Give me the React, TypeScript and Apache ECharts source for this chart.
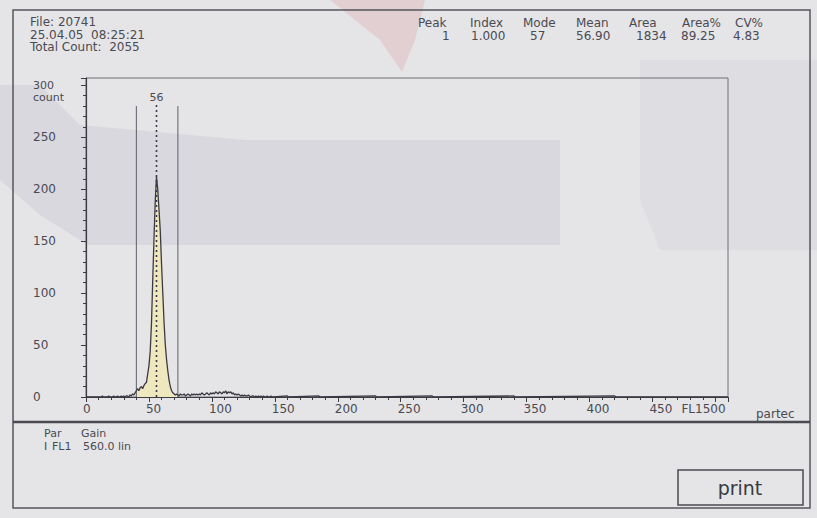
import React, { useEffect, useRef } from "react";
import * as echarts from "echarts";

// Histogram counts per channel (index = channel 0..149)
const counts = [
  0, 0, 0, 0, 0, 0, 0, 0, 0, 0,
  0, 0, 0, 1, 0, 0, 0, 0, 1, 0,
  0, 0, 1, 0, 0, 1, 0, 0, 1, 0,
  1, 0, 1, 1, 0, 2, 1, 3, 2, 4,
  6, 8, 6, 9, 10, 8, 11, 13, 14, 22,
  30, 44, 70, 112, 152, 188, 212, 200, 180, 160,
  128, 100, 72, 50, 36, 25, 16, 10, 6, 4,
  3, 2, 3, 2, 1, 3, 2, 2, 3, 1,
  2, 3, 2, 1, 3, 2, 3, 2, 3, 2,
  3, 2, 4, 3, 2, 3, 4, 3, 2, 4,
  3, 4, 3, 5, 4, 3, 5, 4, 3, 5,
  4, 6, 3, 5, 4, 5, 3, 4, 2, 3,
  2, 3, 2, 1, 2, 1, 2, 1, 1, 2,
  1, 0, 1, 1, 0, 1, 0, 1, 0, 1,
  0, 1, 0, 0, 1, 0, 0, 1, 0, 0,
];
// Sparse tail beyond channel 149
const tailChannels = [160, 161, 185, 186, 230, 231, 275, 276, 340, 341, 420, 421, 510];
const tailCounts = [1, 0, 1, 0, 1, 0, 1, 0, 1, 0, 1, 0, 0];

const xMax = 510;
const yMax = 307;
const peakChannel = 56;
const gateLeft = 40;
const gateRight = 73;
const gateTop = 280;
const peakTop = 281;

const headerLeft = ["File: 20741", "25.04.05  08:25:21", "Total Count:  2055"];
const statNames = ["Peak", "Index", "Mode", "Mean", "Area", "Area%", "CV%"];
const statValues = ["1", "1.000", "57", "56.90", "1834", "89.25", "4.83"];
const paramHead = ["Par", "Gain"];
const paramRow = ["I", "FL1", "560.0 lin"];

const FONT = "DejaVu Sans";
const TXT = "#4a4a52";

export default function App() {
  const ref = useRef<HTMLDivElement>(null);
  useEffect(() => {
    if (!ref.current) return;
    const chart = echarts.init(ref.current, undefined, { renderer: "svg" });

    const histData: any[] = counts.map((c, i) => [i, c]);
    tailChannels.forEach((ch, k) => histData.push([ch, tailCounts[k]]));
    const gateData = counts.slice(gateLeft, gateRight + 1).map((c, k) => [gateLeft + k, c]);

    const statNameX = [418, 470, 523, 576, 629, 682, 735];
    const statValX = [442, 471, 530, 576, 636, 681, 733];

    const texts: any[] = [];
    headerLeft.forEach((t, i) =>
      texts.push({ type: "text", left: 30, top: 16 + i * 12.5, style: { text: t, font: `12px "${FONT}"`, fill: TXT } })
    );
    statNames.forEach((t, i) =>
      texts.push({ type: "text", x: statNameX[i], y: 17, style: { text: t, font: `12px "${FONT}"`, fill: TXT } })
    );
    statValues.forEach((t, i) =>
      texts.push({ type: "text", x: statValX[i], y: 30, style: { text: t, font: `12px "${FONT}"`, fill: TXT } })
    );
    const paramHeadX = [44, 81];
    const paramRowX = [44, 52, 83];
    paramHead.forEach((t, i) =>
      texts.push({ type: "text", x: paramHeadX[i], y: 428, style: { text: t, font: `11px "${FONT}"`, fill: TXT } })
    );
    paramRow.forEach((t, i) =>
      texts.push({ type: "text", x: paramRowX[i], y: 441, style: { text: t, font: `11px "${FONT}"`, fill: TXT } })
    );

    const option: any = {
      animation: false,
      backgroundColor: "#e5e5e7",
      textStyle: { fontFamily: FONT },
      grid: {
        left: 86,
        top: 78,
        width: 642,
        height: 319,
        show: true,
        borderColor: "#6e6e76",
        borderWidth: 1,
        backgroundColor: "transparent",
      },
      xAxis: [
        {
          type: "value",
          min: 0,
          max: xMax,
          interval: 50,
          position: "bottom",
          axisLine: { show: true, lineStyle: { color: "#3c3c44", width: 1.2 } },
          axisTick: { show: true, length: 5, lineStyle: { color: "#3c3c44" } },
          splitLine: { show: false },
          axisLabel: {
            show: true,
            align: "left",
            margin: 6,
            color: TXT,
            fontSize: 12,
            fontFamily: FONT,
            padding: [0, 0, 0, -3],
            formatter: (v: number) => {
              if (v % 50 !== 0) return "";
              if (v === 500) return "{f|FL1500}";
              return String(v);
            },
            rich: {
              f: { fontSize: 12, fontFamily: FONT, color: TXT, padding: [0, 0, 0, -31] },
            },
          },
        },
        {
          type: "value",
          min: 0,
          max: xMax,
          interval: 10,
          position: "bottom",
          axisLine: { show: false },
          axisTick: { show: true, length: 3, lineStyle: { color: "#3c3c44" } },
          axisLabel: { show: false },
          splitLine: { show: false },
        },
      ],
      yAxis: [
        {
          type: "value",
          min: 0,
          max: yMax,
          interval: 50,
          position: "left",
          axisLine: { show: true, lineStyle: { color: "#3c3c44", width: 1.2 } },
          axisTick: { show: true, length: 5, lineStyle: { color: "#3c3c44" } },
          splitLine: { show: false },
          axisLabel: {
            show: true,
            align: "left",
            margin: 53,
            color: TXT,
            fontSize: 12,
            fontFamily: FONT,
            formatter: (v: number) => {
              if (v % 50 !== 0) return "";
              if (v === 300) return "{e| }\n{n|300}\n{n|count}";
              return String(v);
            },
            rich: {
              e: { fontSize: 10, lineHeight: 12 },
              n: { fontSize: 11, lineHeight: 12, color: TXT, fontFamily: FONT },
            },
          },
        },
        {
          type: "value",
          min: 0,
          max: yMax,
          interval: 10,
          position: "left",
          axisLine: { show: false },
          axisTick: { show: true, length: 3, lineStyle: { color: "#3c3c44" } },
          axisLabel: { show: false },
          splitLine: { show: false },
        },
      ],
      series: [
        {
          type: "line",
          data: gateData,
          showSymbol: false,
          lineStyle: { width: 0 },
          areaStyle: { color: "#efe7bd", opacity: 1 },
          z: 1,
          silent: true,
        },
        {
          type: "line",
          data: histData,
          showSymbol: false,
          lineStyle: { color: "#3a3a44", width: 1.3 },
          z: 3,
          silent: true,
        },
        {
          type: "line",
          data: [[gateLeft, 0], [gateLeft, gateTop]],
          showSymbol: false,
          lineStyle: { color: "#5e5e68", width: 1 },
          z: 2,
          silent: true,
        },
        {
          type: "line",
          data: [[gateRight, 0], [gateRight, gateTop]],
          showSymbol: false,
          lineStyle: { color: "#5e5e68", width: 1 },
          z: 2,
          silent: true,
        },
        {
          type: "line",
          data: [
            [peakChannel, 0],
            {
              value: [peakChannel, peakTop],
              label: {
                show: true,
                position: "top",
                distance: 2,
                formatter: String(peakChannel),
                color: TXT,
                fontSize: 11,
                fontFamily: FONT,
              },
            },
          ],
          symbol: "circle",
          symbolSize: 0,
          showSymbol: true,
          lineStyle: { color: "#3a3a48", width: 1.6, type: [2, 3] },
          z: 4,
          silent: true,
        },
      ],
      graphic: [
        // faint watermark shapes
        {
          type: "polygon",
          z: -10,
          shape: { points: [[330, 0], [425, 0], [415, 40], [402, 72], [380, 40]] },
          style: { fill: "rgba(215,150,155,0.28)" },
          silent: true,
        },
        {
          type: "polygon",
          z: -10,
          shape: { points: [[0, 85], [40, 85], [80, 125], [245, 140], [560, 140], [560, 245], [88, 245], [40, 215], [0, 180]] },
          style: { fill: "rgba(150,150,175,0.16)" },
          silent: true,
        },
        {
          type: "polygon",
          z: -10,
          shape: { points: [[640, 60], [817, 60], [817, 250], [660, 250], [640, 200]] },
          style: { fill: "rgba(170,170,185,0.10)" },
          silent: true,
        },
        // outer frame
        {
          type: "rect",
          shape: { x: 13, y: 10, width: 797, height: 498 },
          style: { fill: "none", stroke: "#55555e", lineWidth: 1.5 },
          silent: true,
        },
        {
          type: "line",
          shape: { x1: 13, y1: 422, x2: 810, y2: 422 },
          style: { stroke: "#4a4a52", lineWidth: 2.5 },
          silent: true,
        },
        {
          type: "text",
          x: 756,
          y: 408,
          style: { text: "partec", font: `12px "${FONT}"`, fill: TXT },
          silent: true,
        },
        {
          type: "rect",
          shape: { x: 678, y: 470, width: 125, height: 35 },
          style: { fill: "none", stroke: "#4a4a52", lineWidth: 1.5 },
          silent: true,
        },
        {
          type: "text",
          x: 740,
          y: 488,
          style: { text: "print", font: `19px "${FONT}"`, fill: "#3a3a42", align: "center", verticalAlign: "middle" },
          silent: true,
        },
        ...texts,
      ],
    };
    chart.setOption(option);
    return () => chart.dispose();
  }, []);
  return <div ref={ref} style={{ position: "fixed", left: 0, top: 0, width: 817, height: 518 }} />;
}
